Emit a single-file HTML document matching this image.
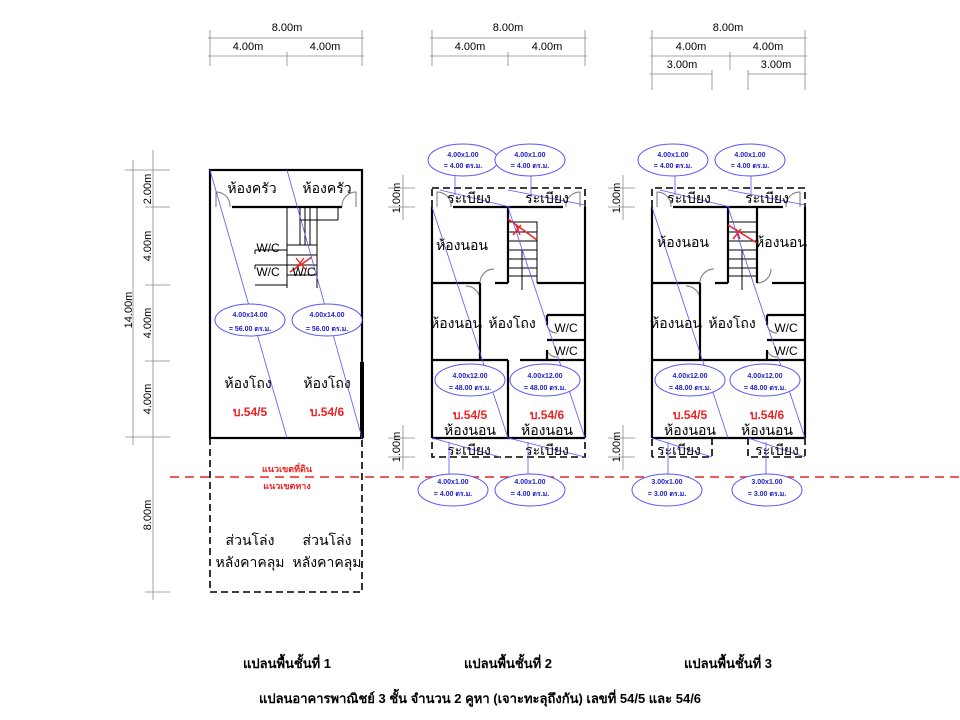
<!DOCTYPE html>
<html><head><meta charset="utf-8"><style>
body{margin:0;background:#fff}
svg{display:block;font-family:"Liberation Sans","Noto Sans CJK SC",sans-serif}
.w{stroke:#000;stroke-width:2.2;fill:none}
.t{stroke:#000;stroke-width:1;fill:none}
.d{stroke:#000;stroke-width:1.6;fill:none;stroke-dasharray:7 4}
.g{stroke:#888;stroke-width:0.8;fill:none}
.b{stroke:#55f;stroke-width:0.8;fill:none}
.e{stroke:#55f;stroke-width:1;fill:#fff}
.a{stroke:#777;stroke-width:1;fill:none}
.et{font-size:7px;font-weight:bold;fill:#22c;text-anchor:middle}
.th{font-size:14px;fill:#000;text-anchor:middle}
.r{font-size:12px;font-weight:bold;fill:#e22;text-anchor:middle}
.dm{font-size:11px;fill:#000;text-anchor:middle}
</style></head><body>
<svg width="960" height="720" viewBox="0 0 960 720">
<defs>
<g id="ell"><ellipse cx="0" cy="0" rx="35" ry="16" class="e"/></g>
</defs>
<g class="g" stroke="#666">
<line x1="208" y1="38" x2="364" y2="38"/><line x1="208" y1="56" x2="364" y2="56"/>
<line x1="210" y1="30" x2="210" y2="66"/><line x1="362" y1="30" x2="362" y2="66"/><line x1="287" y1="52" x2="287" y2="66"/>
<line x1="430" y1="38" x2="587" y2="38"/><line x1="430" y1="56" x2="587" y2="56"/>
<line x1="432" y1="30" x2="432" y2="66"/><line x1="585" y1="30" x2="585" y2="66"/><line x1="508" y1="52" x2="508" y2="66"/>
<line x1="650" y1="38" x2="807" y2="38"/><line x1="650" y1="56" x2="807" y2="56"/><line x1="650" y1="74" x2="712" y2="74"/><line x1="748" y1="74" x2="807" y2="74"/>
<line x1="652" y1="30" x2="652" y2="90"/><line x1="805" y1="30" x2="805" y2="90"/><line x1="730" y1="52" x2="730" y2="70"/><line x1="712" y1="70" x2="712" y2="90"/><line x1="748" y1="70" x2="748" y2="90"/>
</g>
<g class="dm">
<text x="287" y="31">8.00m</text><text x="248" y="50">4.00m</text><text x="325" y="50">4.00m</text>
<text x="508" y="31">8.00m</text><text x="470" y="50">4.00m</text><text x="547" y="50">4.00m</text>
<text x="728" y="31">8.00m</text><text x="691" y="50">4.00m</text><text x="768" y="50">4.00m</text>
<text x="682" y="68">3.00m</text><text x="776" y="68">3.00m</text>
</g>
<g class="g">
<line x1="133" y1="160" x2="133" y2="445"/><line x1="153" y1="150" x2="153" y2="600"/>
<line x1="125" y1="170" x2="170" y2="170"/><line x1="145" y1="207" x2="170" y2="207"/><line x1="145" y1="285" x2="170" y2="285"/><line x1="145" y1="361" x2="170" y2="361"/><line x1="125" y1="437" x2="170" y2="437"/><line x1="145" y1="592" x2="170" y2="592"/>
</g>
<g class="dm">
<text transform="translate(132,310) rotate(-90)">14.00m</text>
<text transform="translate(151,189) rotate(-90)">2.00m</text>
<text transform="translate(151,246) rotate(-90)">4.00m</text>
<text transform="translate(151,323) rotate(-90)">4.00m</text>
<text transform="translate(151,399) rotate(-90)">4.00m</text>
<text transform="translate(151,515) rotate(-90)">8.00m</text>
<text transform="translate(400,198) rotate(-90)">1.00m</text>
<text transform="translate(400,447) rotate(-90)">1.00m</text>
<text transform="translate(620,198) rotate(-90)">1.00m</text>
<text transform="translate(620,447) rotate(-90)">1.00m</text>
</g>
<g class="g">
<line x1="388" y1="188" x2="415" y2="188"/><line x1="388" y1="207" x2="415" y2="207"/><line x1="403" y1="175" x2="403" y2="220"/>
<line x1="388" y1="438" x2="415" y2="438"/><line x1="388" y1="457" x2="415" y2="457"/><line x1="403" y1="425" x2="403" y2="470"/>
<line x1="608" y1="188" x2="635" y2="188"/><line x1="608" y1="207" x2="635" y2="207"/><line x1="623" y1="175" x2="623" y2="220"/>
<line x1="608" y1="438" x2="635" y2="438"/><line x1="608" y1="457" x2="635" y2="457"/><line x1="623" y1="425" x2="623" y2="470"/>
</g>
<!-- FLOOR 1 -->
<rect x="210" y="170" width="152" height="268" class="w"/>
<line x1="362" y1="362" x2="362" y2="438" stroke="#000" stroke-width="4"/>
<line x1="232" y1="207" x2="342" y2="207" class="w"/>
<path d="M216 207V192A14 14 0 0 1 230 207M356 207V192A14 14 0 0 0 342 207" class="a"/>
<path d="M287 207V288M317 207V288" class="t" stroke-width="2"/>
<g class="t"><path d="M300 207V245M305 207V245M310 207V245M317 207V245M300 220H338M300 245H317M287 245H317M287 255H317M287 265H317M287 275H317M338 207V220"/>
<path d="M255 250H287M255 265H287M255 285H287M255 250v4M255 265v4"/></g>
<line x1="290" y1="272" x2="312" y2="257" stroke="#e22" stroke-width="1.5"/>
<path d="M296 258l10 12M304 258l-8 10" stroke="#e22" stroke-width="1.3"/>
<line x1="210" y1="170" x2="287" y2="438" class="b"/><line x1="287" y1="170" x2="362" y2="438" class="b"/>
<text x="252" y="193" class="th">ห้องครัว</text><text x="327" y="193" class="th">ห้องครัว</text>
<text x="268" y="252" font-size="12" text-anchor="middle">W/C</text>
<text x="268" y="276" font-size="12" text-anchor="middle">W/C</text>
<text x="304" y="276" font-size="12" text-anchor="middle">W/C</text>
<use href="#ell" x="250" y="320"/><use href="#ell" x="327" y="320"/>
<text x="250" y="317" class="et">4.00x14.00</text><text x="250" y="331" class="et">= 56.00 ตร.ม.</text>
<text x="327" y="317" class="et">4.00x14.00</text><text x="327" y="331" class="et">= 56.00 ตร.ม.</text>
<text x="248" y="388" class="th">ห้องโถง</text><text x="327" y="388" class="th">ห้องโถง</text>
<text x="250" y="416" class="r">บ.54/5</text><text x="327" y="416" class="r">บ.54/6</text>
<rect x="210" y="438" width="152" height="154" class="d"/>
<text x="250" y="545" class="th">ส่วนโล่ง</text><text x="250" y="567" class="th">หลังคาคลุม</text>
<text x="327" y="545" class="th">ส่วนโล่ง</text><text x="327" y="567" class="th">หลังคาคลุม</text>
<line x1="170" y1="477" x2="960" y2="477" stroke="#e22" stroke-width="1.5" stroke-dasharray="9 6"/>
<text x="287" y="472" font-size="9" font-weight="bold" fill="#e22" text-anchor="middle">แนวเขตที่ดิน</text>
<text x="287" y="489" font-size="9" font-weight="bold" fill="#e22" text-anchor="middle">แนวเขตทาง</text>

<!-- FLOOR 2 -->
<g>
<rect x="432" y="188" width="153" height="269" class="d"/>
<line x1="432" y1="207" x2="432" y2="438" class="w"/><line x1="585" y1="207" x2="585" y2="438" class="w"/>
<line x1="453" y1="207" x2="563" y2="207" class="w"/><line x1="432" y1="438" x2="585" y2="438" class="w"/>
<path d="M437 207V192A14 14 0 0 1 451 207M580 207V192A14 14 0 0 0 566 207M480 283A14 14 0 0 1 494 269M480 300A14 14 0 0 0 466 286M547 325A10 10 0 0 0 557 333M547 350A10 10 0 0 0 557 357" class="a"/>
<path d="M432 283H480M495 283H508M508 207V283M537 283H585M480 283V360M432 360H508M520 360H585M508 360V438M547 315H585M547 340H585M547 315V325M547 350V360" class="w" stroke-width="1.8"/>
<g class="t"><path d="M508 222H537V283M508 232H537M508 241H537M508 250H537M508 259H537M508 268H537M508 276H537"/><path d="M522 290V250"/></g>
<path d="M508 219L537 240M513 235l8-10M516 225l4 10" stroke="#e22" stroke-width="1.5" fill="none"/>
<line x1="432" y1="207" x2="508" y2="438" class="b"/><line x1="508" y1="207" x2="585" y2="438" class="b"/>
<line x1="440" y1="190" x2="510" y2="207" class="b"/><line x1="508" y1="190" x2="585" y2="205" class="b"/>
<line x1="508" y1="438" x2="585" y2="457" class="b"/><line x1="432" y1="438" x2="500" y2="457" class="b"/>
<text x="469" y="203" class="th">ระเบียง</text><text x="547" y="203" class="th">ระเบียง</text>
<text x="462" y="250" class="th">ห้องนอน</text><text x="456" y="328" class="th">ห้องนอน</text><text x="512" y="328" class="th">ห้องโถง</text>
<text x="566" y="332" font-size="12" text-anchor="middle">W/C</text><text x="566" y="355" font-size="12" text-anchor="middle">W/C</text>
<text x="470" y="419" class="r">บ.54/5</text><text x="547" y="419" class="r">บ.54/6</text>
<text x="470" y="435" class="th">ห้องนอน</text><text x="547" y="435" class="th">ห้องนอน</text>
<text x="469" y="455" class="th">ระเบียง</text><text x="547" y="455" class="th">ระเบียง</text>
<line x1="455" y1="175" x2="455" y2="195" class="b"/><line x1="531" y1="175" x2="531" y2="195" class="b"/>
<line x1="449" y1="442" x2="449" y2="476" class="b"/><line x1="528" y1="442" x2="528" y2="476" class="b"/>
<use href="#ell" x="463" y="160"/><use href="#ell" x="530" y="160"/>
<text x="463" y="157" class="et">4.00x1.00</text><text x="463" y="168" class="et">= 4.00 ตร.ม.</text>
<text x="530" y="157" class="et">4.00x1.00</text><text x="530" y="168" class="et">= 4.00 ตร.ม.</text>
<use href="#ell" x="470" y="380"/><use href="#ell" x="545" y="380"/>
<text x="470" y="378" class="et">4.00x12.00</text><text x="470" y="390" class="et">= 48.00 ตร.ม.</text>
<text x="545" y="378" class="et">4.00x12.00</text><text x="545" y="390" class="et">= 48.00 ตร.ม.</text>
<use href="#ell" x="453" y="490"/><use href="#ell" x="530" y="490"/>
<text x="453" y="484" class="et">4.00x1.00</text><text x="453" y="496" class="et">= 4.00 ตร.ม.</text>
<text x="530" y="484" class="et">4.00x1.00</text><text x="530" y="496" class="et">= 4.00 ตร.ม.</text>
</g>

<!-- FLOOR 3 -->
<g>
<path d="M652 438V188H805V438M652 457V438M712 438V457H652M748 438V457H805V438" class="d"/>
<line x1="652" y1="207" x2="652" y2="438" class="w"/><line x1="805" y1="207" x2="805" y2="438" class="w"/>
<line x1="673" y1="207" x2="783" y2="207" class="w"/><line x1="652" y1="438" x2="805" y2="438" class="w"/>
<path d="M657 207V192A14 14 0 0 1 671 207M800 207V192A14 14 0 0 0 786 207M700 283A14 14 0 0 1 714 269M757 283A14 14 0 0 0 771 269M700 300A14 14 0 0 0 686 286M767 325A10 10 0 0 0 777 333M767 350A10 10 0 0 0 777 357" class="a"/>
<path d="M652 283H700M715 283H728M728 207V283M757 207V283M772 283H805M700 283V360M652 360H805M767 315H805M767 340H805M767 315V325M767 350V360" class="w" stroke-width="1.8"/>
<g class="t"><path d="M728 222H757M728 232H757M728 241H757M728 250H757M728 259H757M728 268H757M728 276H757"/><path d="M742 290V250"/></g>
<path d="M728 225L757 243M733 239l8-10M736 229l4 10" stroke="#e22" stroke-width="1.5" fill="none"/>
<line x1="652" y1="207" x2="728" y2="438" class="b"/><line x1="728" y1="207" x2="805" y2="438" class="b"/>
<line x1="660" y1="190" x2="730" y2="207" class="b"/><line x1="728" y1="190" x2="805" y2="205" class="b"/>
<line x1="748" y1="438" x2="805" y2="457" class="b"/><line x1="652" y1="438" x2="712" y2="457" class="b"/>
<text x="689" y="203" class="th">ระเบียง</text><text x="767" y="203" class="th">ระเบียง</text>
<text x="683" y="247" class="th">ห้องนอน</text><text x="781" y="247" class="th">ห้องนอน</text>
<text x="676" y="328" class="th">ห้องนอน</text><text x="732" y="328" class="th">ห้องโถง</text>
<text x="786" y="332" font-size="12" text-anchor="middle">W/C</text><text x="786" y="355" font-size="12" text-anchor="middle">W/C</text>
<text x="690" y="419" class="r">บ.54/5</text><text x="767" y="419" class="r">บ.54/6</text>
<text x="690" y="435" class="th">ห้องนอน</text><text x="767" y="435" class="th">ห้องนอน</text>
<text x="679" y="455" class="th">ระเบียง</text><text x="777" y="455" class="th">ระเบียง</text>
<line x1="675" y1="175" x2="675" y2="195" class="b"/><line x1="751" y1="175" x2="751" y2="195" class="b"/>
<line x1="668" y1="442" x2="668" y2="476" class="b"/><line x1="766" y1="442" x2="766" y2="476" class="b"/>
<use href="#ell" x="673" y="160"/><use href="#ell" x="750" y="160"/>
<text x="673" y="157" class="et">4.00x1.00</text><text x="673" y="168" class="et">= 4.00 ตร.ม.</text>
<text x="750" y="157" class="et">4.00x1.00</text><text x="750" y="168" class="et">= 4.00 ตร.ม.</text>
<use href="#ell" x="690" y="380"/><use href="#ell" x="765" y="380"/>
<text x="690" y="378" class="et">4.00x12.00</text><text x="690" y="390" class="et">= 48.00 ตร.ม.</text>
<text x="765" y="378" class="et">4.00x12.00</text><text x="765" y="390" class="et">= 48.00 ตร.ม.</text>
<use href="#ell" x="667" y="490"/><use href="#ell" x="767" y="490"/>
<text x="667" y="484" class="et">3.00x1.00</text><text x="667" y="496" class="et">= 3.00 ตร.ม.</text>
<text x="767" y="484" class="et">3.00x1.00</text><text x="767" y="496" class="et">= 3.00 ตร.ม.</text>
</g>

<g font-size="13" font-weight="bold" text-anchor="middle">
<text x="287" y="668">แปลนพื้นชั้นที่ 1</text>
<text x="508" y="668">แปลนพื้นชั้นที่ 2</text>
<text x="728" y="668">แปลนพื้นชั้นที่ 3</text>
<text x="480" y="703">แปลนอาคารพาณิชย์  3 ชั้น จำนวน 2 คูหา (เจาะทะลุถึงกัน) เลขที่  54/5 และ 54/6</text>
</g>
</svg>
</body></html>
